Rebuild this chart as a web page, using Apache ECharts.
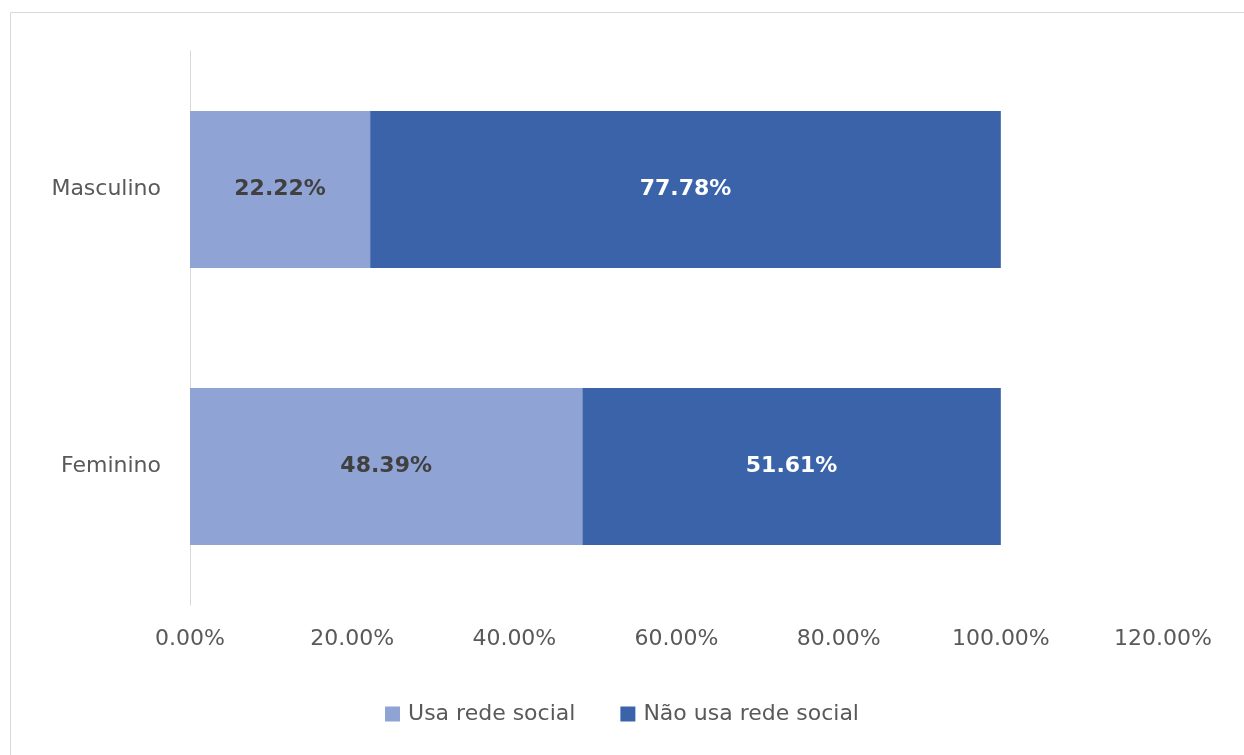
<!DOCTYPE html>
<html>
<head>
<meta charset="utf-8">
<script src="https://cdn.jsdelivr.net/npm/echarts@6/dist/echarts.min.js"></script>
<style>
  html, body { margin: 0; padding: 0; background: #fff; }
  #chart { width: 1244px; height: 755px; }
</style>
</head>
<body>
<div id="chart"></div>
<script>
  // dados
  const categories = ['Feminino', 'Masculino'];
  const usaRede = [48.39, 22.22];
  const naoUsaRede = [51.61, 77.78];
  const seriesNames = ['Usa rede social', 'Não usa rede social'];

  const chart = echarts.init(document.getElementById('chart'));
  const fmt = v => v.toFixed(2) + '%';

  chart.setOption({
    animation: false,
    textStyle: { fontFamily: 'DejaVu Sans' },
    graphic: [{
      type: 'rect',
      shape: { x: 10.5, y: 12.5, width: 1300, height: 800 },
      style: { fill: 'none', stroke: '#d9d9d9', lineWidth: 1 },
      silent: true
    }],
    grid: { left: 190, right: 81, top: 51, bottom: 150, containLabel: false },
    legend: {
      top: 698,
      left: 'center',
      icon: 'rect',
      itemWidth: 15,
      itemHeight: 15,
      itemGap: 45,
      textStyle: { fontSize: 22, color: '#595959', padding: [0, 0, 0, 3] },
      data: seriesNames
    },
    xAxis: {
      type: 'value',
      min: 0,
      max: 120,
      interval: 20,
      axisLine: { show: false },
      axisTick: { show: false },
      splitLine: { show: false },
      axisLabel: {
        margin: 23,
        fontSize: 22,
        color: '#595959',
        formatter: v => fmt(v)
      }
    },
    yAxis: {
      type: 'category',
      data: categories,
      axisLine: { show: true, lineStyle: { color: '#d9d9d9', width: 1 } },
      axisTick: { show: false },
      axisLabel: { margin: 29, fontSize: 22, color: '#595959' }
    },
    series: [
      {
        name: seriesNames[0],
        type: 'bar',
        stack: 'total',
        barWidth: 157,
        itemStyle: { color: '#8fa3d4' },
        label: {
          show: true,
          position: 'inside',
          fontSize: 22,
          fontWeight: 'bold',
          color: '#404040',
          formatter: p => fmt(p.value)
        },
        data: usaRede
      },
      {
        name: seriesNames[1],
        type: 'bar',
        stack: 'total',
        barWidth: 157,
        itemStyle: { color: '#3a63aa' },
        label: {
          show: true,
          position: 'inside',
          fontSize: 22,
          fontWeight: 'bold',
          color: '#ffffff',
          formatter: p => fmt(p.value)
        },
        data: naoUsaRede
      }
    ]
  });
</script>
</body>
</html>
